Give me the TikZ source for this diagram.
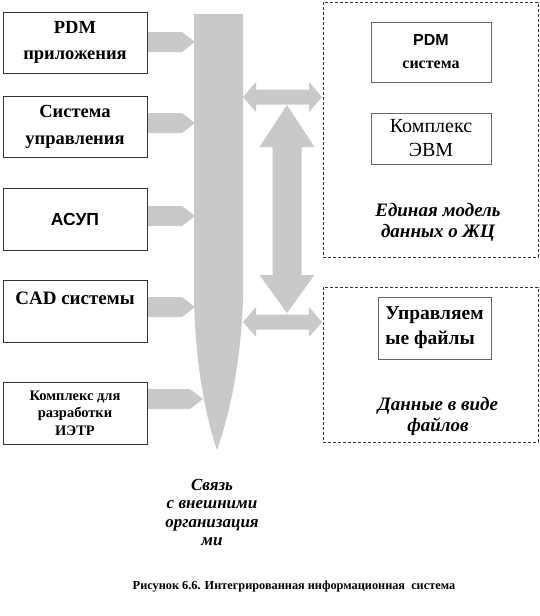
\documentclass[tikz,border=0pt]{standalone}
\usepackage{fontspec}
\setmainfont{Liberation Serif}
\newfontfamily\sansfnt{Liberation Sans}
\usetikzlibrary{positioning}
\definecolor{hatch}{gray}{0.79}
\definecolor{frame}{gray}{0.2}
\definecolor{coreline}{gray}{0.4}

\tikzset{
  unitbox/.style={draw=frame, line width=0.7pt, align=center, inner sep=0pt,
    minimum width=144pt, font=\bfseries\fontsize{18.5}{26.5}\selectfont},
  corebox/.style={draw=coreline, line width=0.8pt, align=center, inner sep=0pt},
  groupbox/.style={draw=frame, line width=0.6pt, dash pattern=on 3pt off 2pt, inner sep=0pt},
  tag/.style={align=center, inner sep=0pt, font=\bfseries\itshape\fontsize{19}{21}\selectfont},
  fat/.style={fill=hatch, draw=none}
}

\begin{document}
\begin{tikzpicture}[x=1pt, y=-1pt]
  \useasboundingbox (0,0) rectangle (539,616);

  % shared bus arrow
  \fill[fat] (194,14) -- (194,300) .. controls (196,380) and (210,430) .. (217,450)
    .. controls (224,430) and (240,380) .. (243,300) -- (243,14) -- cycle;

  % feeds from the subsystems
  \foreach \c/\t in {42/195, 123/195, 216/195, 307/195, 399/203}
    \fill[fat] (147,\c-10) -- (\t-13,\c-10) -- (\t,\c) -- (\t-13,\c+10) -- (147,\c+10) -- cycle;

  % exchange between the data stores
  \fill[fat] (287,105) -- (314.5,147) -- (301.5,147) -- (301.5,275) -- (314.5,275) -- (287,313)
    -- (259.5,275) -- (272.5,275) -- (272.5,147) -- (259.5,147) -- cycle;
  \foreach \c in {97,322}
    \fill[fat] (243,\c) -- (256,\c-15) -- (256,\c-7.5) -- (309,\c-7.5) -- (309,\c-15) -- (322,\c)
      -- (309,\c+15) -- (309,\c+7.5) -- (256,\c+7.5) -- (256,\c+15) -- cycle;

  % subsystems
  \node[unitbox, minimum height=61pt] (pdmapp) at (75,42.5) {PDM\\приложения};
  \node[unitbox, minimum height=61pt] (ctrl) at (75,127) {Система\\управления};
  \node[unitbox, minimum height=62pt, font=\sansfnt\bfseries\fontsize{17.5}{18}\selectfont] (asup) at (75,219) {АСУП};
  \node[unitbox, minimum height=62pt, font=\bfseries\fontsize{19}{26}\selectfont] (cad) at (75,311) {CAD системы\\~};
  \node[unitbox, minimum height=62pt, font=\bfseries\fontsize{14.5}{17.5}\selectfont] (ietr) at (75,413) {Комплекс для\\разработки\\ИЭТР};

  % data stores
  \node[groupbox, minimum width=215pt, minimum height=255pt] (lcm) at (430.5,129.5) {};
  \node[groupbox, minimum width=215pt, minimum height=155pt] (files) at (430.5,364.5) {};

  \node[corebox, minimum width=120pt, minimum height=60pt, font=\bfseries\fontsize{16}{23}\selectfont] (pdmsys) at (431,52) {{\sansfnt PDM}\\система};
  \node[corebox, minimum width=120pt, minimum height=51pt, font=\fontsize{20}{24}\selectfont] (evm) at (431,138.5) {Комплекс\\ЭВМ};
  \node[corebox, minimum width=113pt, minimum height=62pt, align=left, font=\bfseries\fontsize{19.5}{25}\selectfont] (managed) at (434.5,328) {Управляем\\ые файлы};

  \node[tag] (lcmtag) at (438,222.5) {Единая модель\\данных о ЖЦ};
  \node[tag] (filestag) at (438,416) {Данные в виде\\файлов};
  \node[tag, font=\bfseries\itshape\fontsize{17}{18.5}\selectfont] (exttag) at (212,512.5) {Связь\\с внешними\\организация\\ми};

  \node[inner sep=0pt, font=\bfseries\fontsize{12.3}{14}\selectfont] (fig) at (294,587) {Рисунок 6.6. Интегрированная информационная\ \ система};
\end{tikzpicture}
\end{document}
